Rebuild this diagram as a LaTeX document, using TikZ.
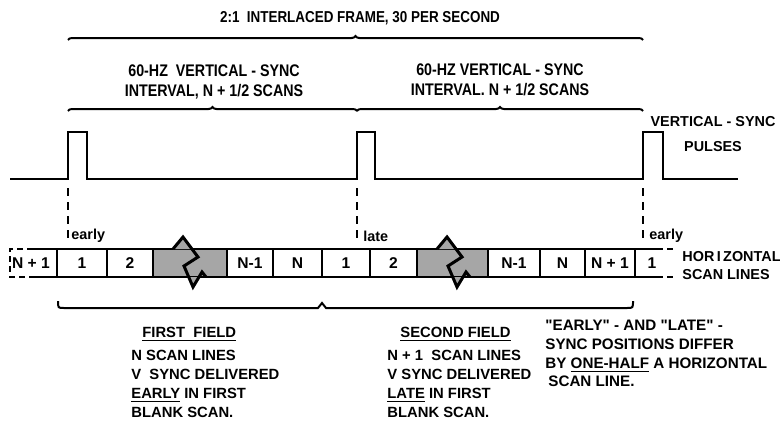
\documentclass[tikz,border=0pt]{standalone}
\usepackage{fontspec}
\setmainfont{Liberation Sans}
\usepackage{tikz}
\usetikzlibrary{positioning,decorations.pathreplacing,calc}
\newcommand{\letra}{\bfseries\fontsize{7.2}{9.5}\selectfont}
\newcommand{\letrac}{\bfseries\fontsize{7.8}{9.5}\selectfont}
\newcommand{\letraa}{\bfseries\fontsize{8.4}{10}\selectfont\addfontfeature{FakeStretch=0.85}}
\tikzset{
  celda/.style   = {draw, line width=1.1pt, inner sep=0pt, outer sep=0pt,
                    minimum height=14pt, font=\letrac},
  sombra/.style  = {fill=black!35},
  borde/.style   = {line width=1.1pt},
  puntos/.style  = {line width=1.1pt, dash pattern=on 3pt off 2pt},
  rotulo/.style  = {font=\letra, inner sep=0pt, align=center},
  texto/.style   = {font=\bfseries\fontsize{7.4}{9.5}\selectfont, inner sep=0pt,
                    align=left, anchor=north west},
  pulso/.style   = {line width=1.25pt, line join=miter},
  marca/.style   = {line width=1pt, dash pattern=on 4pt off 3pt},
  llave/.style   = {line width=1pt, decorate, decoration={brace, amplitude=2pt}},
  corte/.style   = {line width=1.5pt, line join=miter}
}

\begin{document}
\begin{tikzpicture}[x=0.5pt, y=-0.5pt]
  \useasboundingbox (0,0) rectangle (780,424);

  % titulos y llaves
  \node[rotulo, font=\bfseries\fontsize{7.9}{9}\selectfont\addfontfeature{FakeStretch=0.85}] (cuadro) at (360,18) {2:1\ \ INTERLACED FRAME, 30 PER SECOND};
  \node[rotulo, font=\letraa] (campo1) at (214,82) {60-HZ\ \ VERTICAL - SYNC\\INTERVAL, N + 1/2 SCANS};
  \node[rotulo, font=\letraa] (campo2) at (500,80) {60-HZ VERTICAL - SYNC\\INTERVAL. N + 1/2 SCANS};
  \draw[llave] (68,40) -- (643,40);
  \draw[llave] (68,111) -- (357,111);
  \draw[llave] (357,111) -- (643,111);

  % pulsos de sincronismo vertical
  \coordinate (p1) at (68,179);
  \coordinate (p2) at (357,179);
  \coordinate (p3) at (643,179);
  \draw[pulso] (10,179) -- (p1) |- (87,132) |- (p2) |- (375,132) |- (p3) |- (663,132) |- (738,179);
  \node[rotulo, font=\bfseries\fontsize{7.2}{12.5}\selectfont] (pulsos) at (713,134) {VERTICAL - SYNC\\PULSES};

  % marcas early / late
  \node[rotulo, anchor=west] (m1) at (71,236) {early};
  \node[rotulo, anchor=west] (m2) at (363,236) {late};
  \node[rotulo, anchor=west] (m3) at (649,236) {early};
  \draw[marca] ([yshift=-4.5pt]p1) -- (p1 |- m1.south);
  \draw[marca] ([yshift=-4.5pt]p2) -- (p2 |- m2.south);
  \draw[marca] ([yshift=-4.5pt]p3) -- (p3 |- m3.south);

  % lineas de barrido horizontal
  \node[celda, minimum width=25pt, anchor=west] (c1) at (57,263) {1};
  \node[celda, minimum width=23pt, right=0pt of c1] (c2) {2};
  \node[celda, sombra, minimum width=37pt, right=0pt of c2] (s1) {};
  \node[celda, minimum width=23pt, right=0pt of s1] (c3) {N-1};
  \node[celda, minimum width=24.5pt, right=0pt of c3] (c4) {N};
  \node[celda, minimum width=24pt, right=0pt of c4] (c5) {1};
  \node[celda, minimum width=23.5pt, right=0pt of c5] (c6) {2};
  \node[celda, sombra, minimum width=35.5pt, right=0pt of c6] (s2) {};
  \node[celda, minimum width=26pt, right=0pt of s2] (c7) {N-1};
  \node[celda, minimum width=22.5pt, right=0pt of c7] (c8) {N};
  \node[celda, minimum width=25pt, right=0pt of c8] (c9) {N + 1};

  \node[rotulo, font=\letrac] (c0) at (31,263) {N + 1};
  \draw[borde] (c1.north west) -- ++(-24,0) coordinate (a1);
  \draw[borde] (c1.south west) -- ++(-24,0) coordinate (a2);
  \draw[puntos] (a1) -- ++(-23,0) |- (a2);

  \node[rotulo, font=\letrac] (c10) at (652,263) {1};
  \draw[borde] (c9.north east) -- ++(22,0) coordinate (b1);
  \draw[borde] (c9.south east) -- ++(22,0) coordinate (b2);
  \draw[puntos] (b1) -- ++(19,0);
  \draw[puntos] (b2) -- ++(19,0);
  \node[rotulo, align=left, anchor=west, font=\bfseries\fontsize{7.2}{9}\selectfont] (horiz) at (682,266) {HOR\,I\,ZONTAL\\SCAN LINES};

  % cortes
  \fill[sombra] ([xshift=10pt]s1.north west) -- ++(10,-12) -- ++(9,12) -- cycle;
  \fill[sombra] ([xshift=18pt]s1.south west) -- ++(4,10) -- ++(6,-10) -- cycle;
  \draw[corte] ([xshift=10pt]s1.north west) -- ++(10,-12) -- ++(15,20) -- ++(-14,9) -- ++(9,21) -- ++(9,-15) -- ++(4,5);
  \fill[sombra] ([xshift=10pt]s2.north west) -- ++(10,-12) -- ++(9,12) -- cycle;
  \fill[sombra] ([xshift=18pt]s2.south west) -- ++(4,10) -- ++(6,-10) -- cycle;
  \draw[corte] ([xshift=10pt]s2.north west) -- ++(10,-12) -- ++(15,20) -- ++(-14,9) -- ++(9,21) -- ++(9,-15) -- ++(4,5);

  % llave inferior
  \draw[borde, line width=1pt] (58,301) .. controls (58,308) .. (64,308) -- (318,308) -- (322,303) -- (326,308) -- (627,308) .. controls (633,308) .. (633,301);

  % notas
  \node[texto] (primero) at (131,327) {\hspace*{5.5pt}\underline{FIRST\ \ FIELD}\\[2pt]
    N SCAN LINES\\ V\ \ SYNC DELIVERED\\ \underline{EARLY} IN FIRST\\ BLANK SCAN.};
  \node[texto] (segundo) at (387,327) {\hspace*{6.5pt}\underline{SECOND FIELD}\\[2pt]
    N + 1\ \ SCAN LINES\\ V SYNC DELIVERED\\ \underline{LATE} IN FIRST\\ BLANK SCAN.};
  \node[texto, font=\bfseries\fontsize{7.6}{9.3}\selectfont] (nota) at (545,320) {\textquotedbl EARLY\textquotedbl{} - AND \textquotedbl LATE\textquotedbl{} -\\
    SYNC POSITIONS DIFFER\\ BY \underline{ONE-HALF} A HORIZONTAL\\ \hspace*{1.5pt}SCAN LINE.};
\end{tikzpicture}
\end{document}
